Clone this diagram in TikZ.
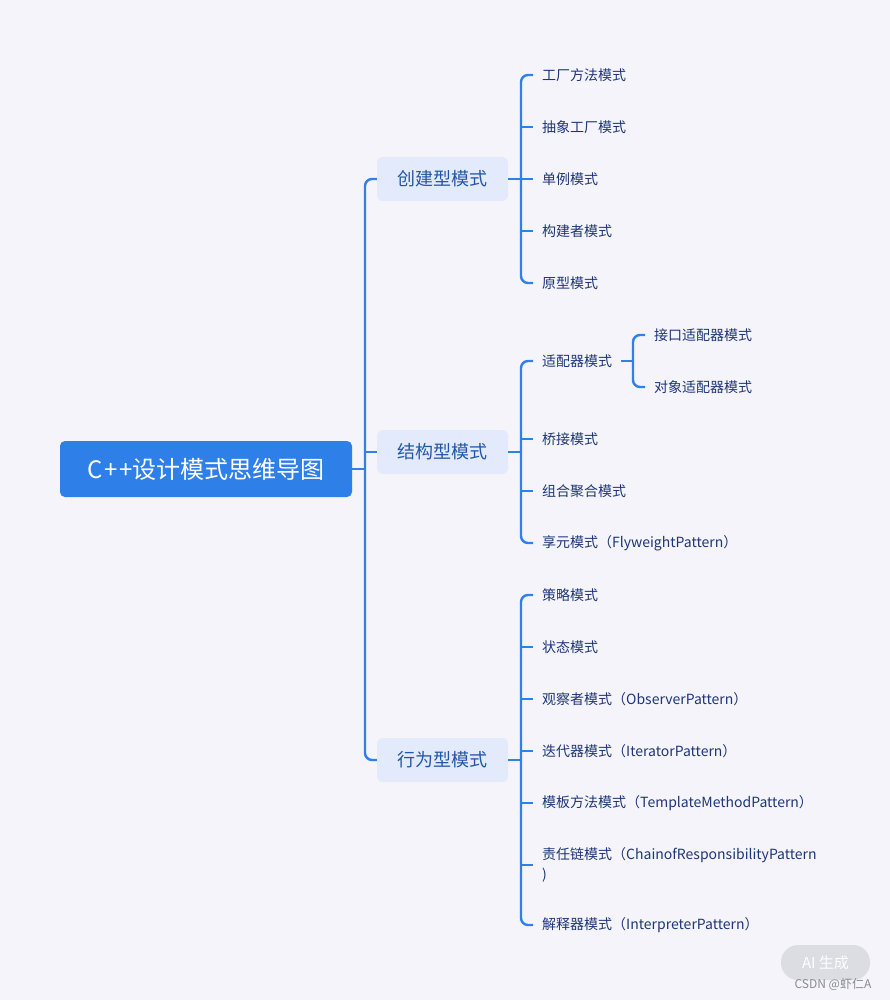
\documentclass[tikz,border=0pt]{standalone}
\usepackage{fontspec}
\setmainfont{Noto Sans CJK SC}
\definecolor{bgc}{HTML}{F4F4FA}
\definecolor{linec}{HTML}{2F80E8}
\definecolor{rootc}{HTML}{2E80E8}
\definecolor{lonec}{HTML}{E2EAFB}
\definecolor{lonet}{HTML}{2356A8}
\definecolor{leaft}{HTML}{1E3678}
\definecolor{pillc}{HTML}{DCDCE3}
\definecolor{markc}{HTML}{8A8A92}
\tikzset{
  conn/.style={draw=linec, line width=2.4pt, rounded corners=7pt},
  rootbox/.style={fill=rootc, text=white, rounded corners=5pt, minimum width=292pt, minimum height=56pt, inner sep=0pt, font=\fontsize{24}{28}\selectfont},
  lonebox/.style={fill=lonec, text=lonet, rounded corners=6pt, minimum width=131pt, minimum height=44pt, inner sep=0pt, font=\fontsize{18}{22}\selectfont},
  leafbox/.style={anchor=west, text=leaft, inner xsep=9pt, inner ysep=3pt, font=\fontsize{14}{20}\selectfont, align=left},
}
\begin{document}
\begin{tikzpicture}[x=1pt, y=-1pt]
\fill[bgc] (0,0) rectangle (890,1000);
\useasboundingbox (0,0) rectangle (890,1000);

\node[rootbox] (root) at (206,469) {\raisebox{-1pt}{C{\kern2pt}+{\kern2pt}+设计模式思维导图}};
\node[lonebox] (cj) at (442.5,179) {\raisebox{-1pt}{创建型模式}};
\node[lonebox] (jg) at (442.5,452) {\raisebox{-1pt}{结构型模式}};
\node[lonebox] (xw) at (442.5,760) {\raisebox{-1pt}{行为型模式}};

% creational leaves
\node[leafbox] (c1) at (533,75) {\raisebox{-1pt}{工厂方法模式}};
\node[leafbox] (c2) at (533,127) {\raisebox{-1pt}{抽象工厂模式}};
\node[leafbox] (c3) at (533,179) {\raisebox{-1pt}{单例模式}};
\node[leafbox] (c4) at (533,231) {\raisebox{-1pt}{构建者模式}};
\node[leafbox] (c5) at (533,283) {\raisebox{-1pt}{原型模式}};

% structural leaves
\node[leafbox] (s1) at (533,361) {\raisebox{-1pt}{适配器模式}};
\node[leafbox] (s2) at (533,439) {\raisebox{-1pt}{桥接模式}};
\node[leafbox] (s3) at (533,491) {\raisebox{-1pt}{组合聚合模式}};
\node[leafbox] (s4) at (533,543) {\raisebox{-1pt}{享元模式（FlyweightPattern）}};
\node[leafbox] (a1) at (645,335) {\raisebox{-1pt}{接口适配器模式}};
\node[leafbox] (a2) at (645,387) {\raisebox{-1pt}{对象适配器模式}};

% behavioral leaves
\node[leafbox] (b1) at (533,595) {\raisebox{-1pt}{策略模式}};
\node[leafbox] (b2) at (533,647) {\raisebox{-1pt}{状态模式}};
\node[leafbox] (b3) at (533,699) {\raisebox{-1pt}{观察者模式（ObserverPattern）}};
\node[leafbox] (b4) at (533,751) {\raisebox{-1pt}{迭代器模式（IteratorPattern）}};
\node[leafbox] (b5) at (533,803) {\raisebox{-1pt}{模板方法模式（TemplateMethodPattern）}};
\node[leafbox] (b6) at (533,865) {责任链模式（ChainofResponsibilityPattern\\)};
\node[leafbox] (b7) at (533,925) {\raisebox{-1pt}{解释器模式（InterpreterPattern）}};

% junction coordinates
\coordinate (r0) at (365,469);
\coordinate (cx) at (521,179);
\coordinate (sx) at (521,452);
\coordinate (bx) at (521,760);
\coordinate (ax) at (633,361);

% root spine
\draw[conn] (cj.west) -| (r0) |- (xw.west);
\draw[conn] (root.east) -- (r0);
\draw[conn] (r0 |- jg.west) -- (jg.west);

% creational
\draw[conn] (c1.west) -| (cx) |- (c5.west);
\draw[conn] (cj.east) -- (c3.west);
\draw[conn] (cx |- c2.west) -- (c2.west);
\draw[conn] (cx |- c4.west) -- (c4.west);

% structural
\draw[conn] (s1.west) -| (sx) |- (s4.west);
\draw[conn] (jg.east) -- (sx);
\draw[conn] (sx |- s2.west) -- (s2.west);
\draw[conn] (sx |- s3.west) -- (s3.west);

% adapter
\draw[conn] (a1.west) -| (ax) |- (a2.west);
\draw[conn] (s1.east) -- (ax);

% behavioral
\draw[conn] (b1.west) -| (bx) |- (b7.west);
\draw[conn] (xw.east) -- (bx);
\draw[conn] (bx |- b2.west) -- (b2.west);
\draw[conn] (bx |- b3.west) -- (b3.west);
\draw[conn] (bx |- b4.west) -- (b4.west);
\draw[conn] (bx |- b5.west) -- (b5.west);
\draw[conn] (bx |- b6.west) -- (b6.west);

% watermark
\node[fill=pillc, text=white, rounded corners=17pt, minimum width=89pt, minimum height=35pt, inner sep=0pt, font=\fontsize{15}{18}\selectfont] (pill) at (825.5,962.5) {AI 生成};
\node[text=markc, inner sep=0pt, font=\fontsize{12}{14}\selectfont] (mark) at (833,984) {CSDN @虾仁A};
\end{tikzpicture}
\end{document}
